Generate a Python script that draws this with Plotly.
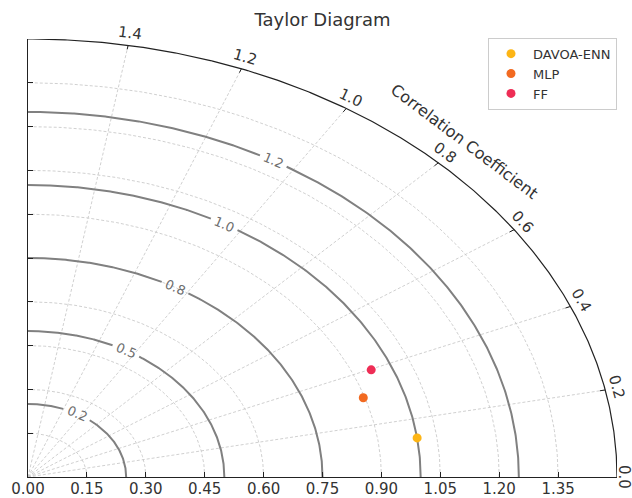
import numpy as np
import plotly.graph_objects as go

# ---------------- data ----------------
models = ["DAVOA-ENN", "MLP", "FF"]
std_dev = [1.000, 0.896, 0.948]
corr_coef = [0.991, 0.953, 0.922]
model_colors = ["#FDB515", "#F26A21", "#EE2D55"]

r_ticks = [0.0, 0.15, 0.30, 0.45, 0.60, 0.75, 0.90, 1.05, 1.20, 1.35]
r_tick_labels = ["0.00", "0.15", "0.30", "0.45", "0.60", "0.75", "0.90", "1.05", "1.20", "1.35"]
theta_ticks = [0.0, 0.2, 0.4, 0.6, 0.8, 1.0, 1.2, 1.4]
theta_tick_labels = ["0.0", "0.2", "0.4", "0.6", "0.8", "1.0", "1.2", "1.4"]
contour_levels = [0.25, 0.5, 0.75, 1.0, 1.25]
contour_labels = ["0.2", "0.5", "0.8", "1.0", "1.2"]
r_max = 1.5

# ---------------- geometry helpers ----------------
W, H = 632, 498
ML, MR, MT, MB = 28, 15, 39, 21
px_x = (W - ML - MR) / r_max   # pixels per data unit, horizontal
px_y = (H - MT - MB) / r_max   # pixels per data unit, vertical

def arc(r, t0, t1, n=200):
    t = np.linspace(t0, t1, n)
    return list(r * np.cos(t)), list(r * np.sin(t))

def tangent_deg(t):
    return float(np.degrees(np.arctan2(px_y * np.cos(t), px_x * np.sin(t))))

fig = go.Figure()

# dashed circular grid
gx, gy = [], []
for r in r_ticks[1:]:
    x, y = arc(r, 0, np.pi / 2)
    gx += x + [None]
    gy += y + [None]
# dashed radial grid
for t in theta_ticks[1:]:
    gx += [0, r_max * np.cos(t), None]
    gy += [0, r_max * np.sin(t), None]
fig.add_trace(go.Scatter(x=gx, y=gy, mode="lines", hoverinfo="skip", showlegend=False,
                         line=dict(color="#c4c4c4", width=0.8, dash="3px,2px")))

# solid contour arcs with label gaps
t_lab = np.pi / 3
cx, cy = [], []
for r in contour_levels:
    speed = r * np.hypot(px_x * np.sin(t_lab), px_y * np.cos(t_lab))
    dt = 14.5 / speed
    x, y = arc(r, 0, t_lab - dt)
    cx += x + [None]; cy += y + [None]
    x, y = arc(r, t_lab + dt, np.pi / 2)
    cx += x + [None]; cy += y + [None]
fig.add_trace(go.Scatter(x=cx, y=cy, mode="lines", hoverinfo="skip", showlegend=False,
                         line=dict(color="#808080", width=2)))

# outer arc
ox, oy = arc(r_max, 0, np.pi / 2, 400)
fig.add_trace(go.Scatter(x=ox, y=oy, mode="lines", hoverinfo="skip", showlegend=False,
                         cliponaxis=False, line=dict(color="#222222", width=1.2)))

# theta tick marks
tx, ty = [], []
for t in theta_ticks[1:]:
    tx += [r_max * np.cos(t), (r_max - 0.014) * np.cos(t), None]
    ty += [r_max * np.sin(t), (r_max - 0.014) * np.sin(t), None]
fig.add_trace(go.Scatter(x=tx, y=ty, mode="lines", hoverinfo="skip", showlegend=False,
                         line=dict(color="#222222", width=1)))

# model points
for name, s, c, col in zip(models, std_dev, corr_coef, model_colors):
    th = np.arccos(c)
    fig.add_trace(go.Scatter(x=[s * np.cos(th)], y=[s * np.sin(th)], mode="markers", name=name,
                             marker=dict(color=col, size=9)))

annotations = []
# theta tick labels
A, B = r_max * px_x, r_max * px_y
for t, lab in zip(theta_ticks, theta_tick_labels):
    nx, ny = B * np.cos(t), A * np.sin(t)
    nn = np.hypot(nx, ny)
    off = 12 if t > 0 else 7
    annotations.append(dict(x=r_max * np.cos(t), y=r_max * np.sin(t), xref="x", yref="y",
                            text=lab, showarrow=False, textangle=tangent_deg(t),
                            xshift=off * nx / nn, yshift=off * ny / nn,
                            font=dict(family="DejaVu Sans", size=15, color="#333333")))
# contour labels
for r, lab in zip(contour_levels, contour_labels):
    annotations.append(dict(x=r * np.cos(t_lab), y=r * np.sin(t_lab), xref="x", yref="y",
                            text=lab, showarrow=False, textangle=tangent_deg(t_lab),
                            font=dict(family="DejaVu Sans", size=13, color="#6e6e6e")))
# angular axis title
annotations.append(dict(x=1.112, y=1.150, xref="x", yref="y", text="Correlation Coefficient",
                        showarrow=False, textangle=37,
                        font=dict(family="DejaVu Sans", size=16, color="#333333")))

fig.update_layout(
    width=W, height=H,
    margin=dict(l=ML, r=MR, t=MT, b=MB, pad=0, autoexpand=False),
    paper_bgcolor="white", plot_bgcolor="white",
    font=dict(family="DejaVu Sans", color="#333333"),
    title=dict(text="Taylor Diagram", x=0.5, xref="paper", xanchor="center",
               y=1 - 20 / H, yanchor="middle",
               font=dict(family="DejaVu Sans", size=18, color="#333333")),
    xaxis=dict(range=[0, r_max], showgrid=False, zeroline=False, showline=True,
               automargin=False, ticklabelstandoff=-2,
               linecolor="#222222", linewidth=1.2, ticks="inside", ticklen=5,
               tickcolor="#222222", tickvals=r_ticks, ticktext=r_tick_labels,
               tickfont=dict(family="DejaVu Sans", size=15, color="#333333")),
    yaxis=dict(range=[0, r_max], showgrid=False, zeroline=False, showline=True,
               automargin=False,
               linecolor="#222222", linewidth=1.2, ticks="inside", ticklen=5,
               tickcolor="#222222", tickvals=r_ticks, showticklabels=False),
    legend=dict(x=1, xanchor="right", y=1.003, yanchor="top", bgcolor="white",
                bordercolor="#cccccc", borderwidth=1, itemwidth=34,
                font=dict(family="DejaVu Sans", size=13, color="#333333")),
    annotations=annotations,
    showlegend=True,
)

fig.write_html("out.html")
